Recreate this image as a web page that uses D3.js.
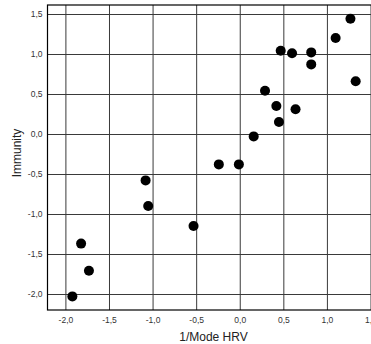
<!DOCTYPE html>
<html>
<head>
<meta charset="utf-8">
<script src="https://cdn.jsdelivr.net/npm/d3@7"></script>
<style>
  body { margin: 0; background: #fff; overflow: hidden; }
  text { font-family: Arial, "Liberation Sans", sans-serif; }
</style>
</head>
<body>
<div id="chart"></div>
<script>
// data
var hrvValues = [1.27, 1.10, 0.47, 0.60, 0.82, 0.82, 1.33, 0.29, 0.42, 0.64,
                 0.45, 0.16, -0.24, -0.01, -1.08, -1.05, -0.53, -1.82, -1.73, -1.92];
var immunityValues = [1.44, 1.20, 1.04, 1.01, 1.02, 0.87, 0.66, 0.54, 0.35, 0.31,
                      0.15, -0.03, -0.38, -0.38, -0.58, -0.90, -1.15, -1.37, -1.71, -2.03];
var xTicks = [-2.0, -1.5, -1.0, -0.5, 0.0, 0.5, 1.0, 1.5];
var yTicks = [-2.0, -1.5, -1.0, -0.5, 0.0, 0.5, 1.0, 1.5];

var points = hrvValues.map(function(v, i) {
  return { x: v, y: immunityValues[i] };
});

// set the size
var svgWidth = 400;
var svgHeight = 344;

var plot = { left: 47.5, top: 5, right: 392, bottom: 310 };

var svg = d3.select("#chart")
  .append("svg")
  .attr("width", svgWidth)
  .attr("height", svgHeight);

// scales: -2 -> 65.4, 1.5 -> 370.5 ; 1.5 -> 14, -2 -> 294
var xScale = d3.scaleLinear().domain([-2, 1.5]).range([65.4, 370.5]);
var yScale = d3.scaleLinear().domain([-2, 1.5]).range([294, 14]);

var locale = d3.formatLocale({ decimal: ",", thousands: ".", grouping: [3], currency: ["", ""], minus: "-" });
var fmt = locale.format(".1f");

// grid + y axis
var yAxis = svg.append("g")
  .attr("transform", `translate(${plot.left}, 0)`)
  .call(d3.axisLeft(yScale)
    .tickValues(yTicks)
    .tickFormat(fmt)
    .tickSizeInner(-(plot.right - plot.left))
    .tickSizeOuter(0)
    .tickPadding(5));

// x axis
var xAxis = svg.append("g")
  .attr("transform", `translate(0, ${plot.bottom})`)
  .call(d3.axisBottom(xScale)
    .tickValues(xTicks)
    .tickFormat(fmt)
    .tickSizeInner(-(plot.bottom - plot.top))
    .tickSizeOuter(0)
    .tickPadding(7));

[yAxis, xAxis].forEach(function(ax) {
  ax.select(".domain").remove();
  ax.selectAll(".tick line").attr("stroke", "#3a3a3a").attr("stroke-width", 1);
  ax.selectAll(".tick text")
    .attr("fill", "#333")
    .style("font-size", "8.5px");
});

// frame
svg.append("rect")
  .attr("x", plot.left)
  .attr("y", plot.top)
  .attr("width", plot.right - plot.left)
  .attr("height", plot.bottom - plot.top)
  .attr("fill", "none")
  .attr("stroke", "#000")
  .attr("stroke-width", 1.2);

// points
svg.append("g")
  .selectAll("circle")
  .data(points)
  .enter()
  .append("circle")
  .attr("cx", d => xScale(d.x))
  .attr("cy", d => yScale(d.y))
  .attr("r", 5)
  .attr("fill", "#000");

// axis titles
svg.append("text")
  .attr("x", 213.5)
  .attr("y", 341)
  .attr("text-anchor", "middle")
  .attr("fill", "#222")
  .style("font-size", "12px")
  .text("1/Mode HRV");

svg.append("text")
  .attr("transform", "translate(21, 153) rotate(-90)")
  .attr("text-anchor", "middle")
  .attr("fill", "#222")
  .style("font-size", "12px")
  .text("Immunity");
</script>
</body>
</html>
